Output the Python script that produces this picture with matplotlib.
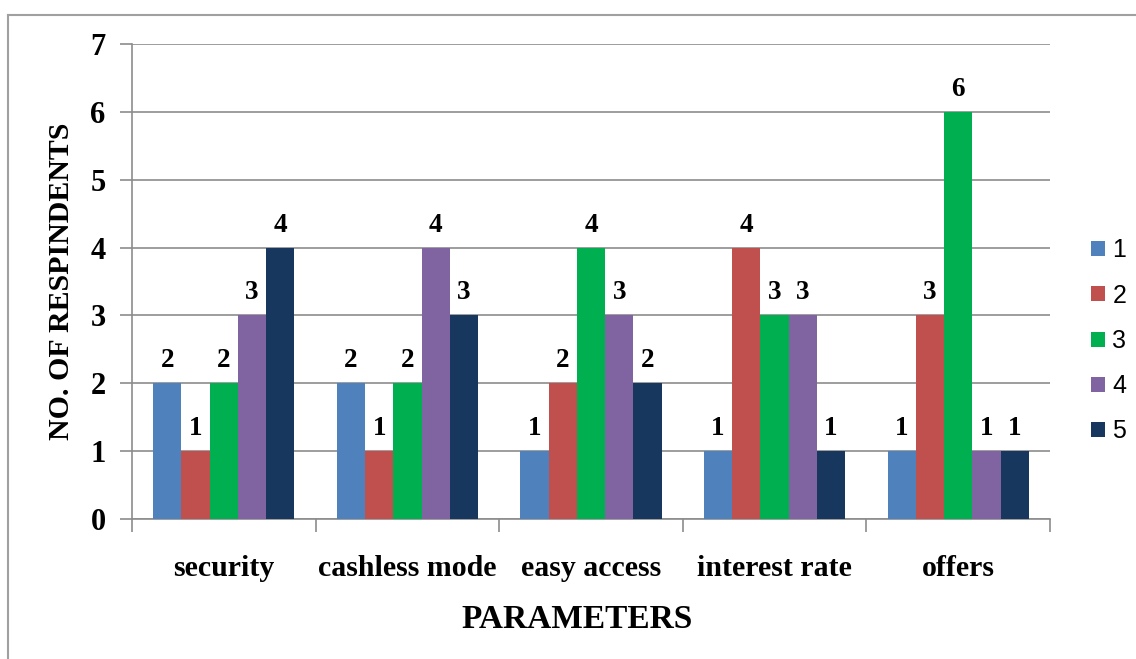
import matplotlib.pyplot as plt
from matplotlib.lines import Line2D
import numpy as np

categories = ['security', 'cashless mode', 'easy access', 'interest rate', 'offers']
series_names = ['1', '2', '3', '4', '5']
s1 = [2, 2, 1, 1, 1]
s2 = [1, 1, 2, 4, 3]
s3 = [2, 2, 4, 3, 6]
s4 = [3, 4, 3, 3, 1]
s5 = [4, 3, 2, 1, 1]
colors = ['#4F81BD', '#C0504D', '#00B050', '#8064A2', '#17375E']

serif = ['Liberation Serif', 'DejaVu Serif']

fig = plt.figure(figsize=(11.36, 6.59), dpi=100)
ax = fig.add_axes([0.1162, 0.2124, 0.8081, 0.7208])

x = np.arange(len(categories))
w = 1 / 6.5
for i, vals in enumerate([s1, s2, s3, s4, s5]):
    bars = ax.bar(x + (i - 2) * w, vals, w, color=colors[i], label=series_names[i], zorder=3)
    for b, v in zip(bars, vals):
        ax.annotate(str(v), (b.get_x() + b.get_width() / 2, v), xytext=(0, 11.5),
                    textcoords='offset points', ha='center', va='baseline',
                    fontsize=19.5, fontweight='bold', family=serif)

ax.set_xlim(-0.5, len(categories) - 0.5)
ax.set_ylim(0, 7)
ax.set_yticks(range(8))
ax.yaxis.grid(True, color='#8C8C8C', linewidth=1.2, zorder=0)
ax.set_axisbelow(True)
for s in ['top', 'right']:
    ax.spines[s].set_visible(False)
for s in ['left', 'bottom']:
    ax.spines[s].set_color('#8C8C8C')
    ax.spines[s].set_linewidth(1.2)

ax.set_xticks(x)
ax.set_xticklabels(categories, fontsize=21.5, fontweight='bold', family=serif)
ax.tick_params(axis='x', length=0, pad=26)
ax.set_xticks(np.arange(-0.5, len(categories), 1), minor=True)
ax.tick_params(axis='x', which='minor', length=9, color='#8C8C8C', width=1.2)
ax.tick_params(axis='y', length=9, color='#8C8C8C', width=1.2, pad=10)
for t in ax.get_yticklabels():
    t.set_fontsize(22)
    t.set_fontweight('bold')
    t.set_family(serif)

ax.set_xlabel('PARAMETERS', fontsize=24, fontweight='bold', family=serif, labelpad=16)
ax.xaxis.label.set_x(0.4847)
ax.set_ylabel('NO. OF RESPINDENTS', fontsize=21.5, fontweight='bold', family=serif, labelpad=11)

ax.legend(loc='center left', bbox_to_anchor=(0.9604, 0.4826), bbox_transform=fig.transFigure,
          frameon=False, handlelength=0.55, handleheight=0.55, handletextpad=0.3,
          labelspacing=0.85, borderpad=0, borderaxespad=0,
          prop={'family': 'Liberation Sans', 'size': 18})

# outer chart border
fig.add_artist(Line2D([8 / 1136, 1], [1 - 15 / 659, 1 - 15 / 659], color='#A0A0A0', linewidth=1.5))
fig.add_artist(Line2D([8 / 1136, 8 / 1136], [0, 1 - 15 / 659], color='#A0A0A0', linewidth=1.5))

fig.savefig('out.png', dpi=100)
